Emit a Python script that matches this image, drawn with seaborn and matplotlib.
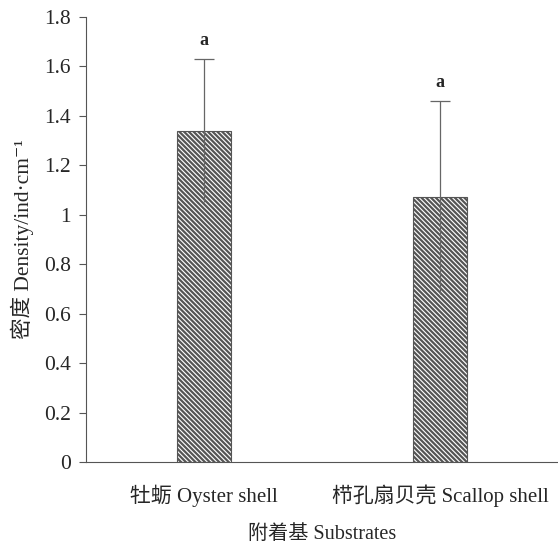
import matplotlib
matplotlib.use("Agg")
import matplotlib.pyplot as plt
import seaborn as sns
import pandas as pd

categories = ["牡蛎 Oyster shell", "栉孔扇贝壳 Scallop shell"]
density = [1.34, 1.07]
errors = [0.29, 0.39]
letters = ["a", "a"]
yticks = [0, 0.2, 0.4, 0.6, 0.8, 1.0, 1.2, 1.4, 1.6, 1.8]
yticklabels = ["0", "0.2", "0.4", "0.6", "0.8", "1", "1.2", "1.4", "1.6", "1.8"]

sns.set_style("white")
plt.rcParams["font.family"] = ["Liberation Serif", "Noto Sans CJK SC", "DejaVu Serif"]
plt.rcParams["hatch.linewidth"] = 1.6
plt.rcParams["hatch.color"] = "black"

df = pd.DataFrame({"cat": categories, "val": density})

fig = plt.figure(figsize=(5.58, 5.45), dpi=100)
ax = fig.add_axes([86 / 558, 1 - 462 / 545, 1 - 86 / 558, (462 - 17) / 545])

sns.barplot(data=df, x="cat", y="val", ax=ax, color="white", width=0.23,
            errorbar=None, edgecolor="#555555", linewidth=0.8, hatch="\\" * 7)

eb = ax.errorbar(range(len(categories)), density, yerr=errors, fmt="none",
                 ecolor="#666666", elinewidth=0.9, capsize=7, capthick=0.9, zorder=5)
eb[1][0].set_visible(False)

for i, (m, e, l) in enumerate(zip(density, errors, letters)):
    ax.text(i, m + e + 0.04, l, ha="center", va="bottom", fontsize=13,
            fontweight="bold", family=["Liberation Serif"])

ax.set_xlim(-0.5, 1.5)
ax.set_ylim(0, 1.8)
ax.set_yticks(yticks)
ax.set_yticklabels(yticklabels, fontsize=15.5)
ax.set_xticks([0, 1])
ax.set_xticklabels(categories, fontsize=15)
ax.set_xticks([-0.5, 0.5, 1.5], minor=True)
ax.tick_params(axis="x", which="major", length=0, pad=16)
ax.tick_params(axis="x", which="minor", length=5, direction="out", color="#555555", width=0.8)
ax.tick_params(axis="y", length=5, direction="out", color="#555555", width=0.8, left=True, pad=6)
for s in ["top", "right"]:
    ax.spines[s].set_visible(False)
for s in ["left", "bottom"]:
    ax.spines[s].set_color("#555555")
    ax.spines[s].set_linewidth(0.8)

ax.set_xlabel("附着基 Substrates", fontsize=14.5, labelpad=13)
ax.set_ylabel("密度 Density/ind·cm⁻¹", fontsize=15.5, labelpad=7)

fig.savefig("out.png", dpi=100)
